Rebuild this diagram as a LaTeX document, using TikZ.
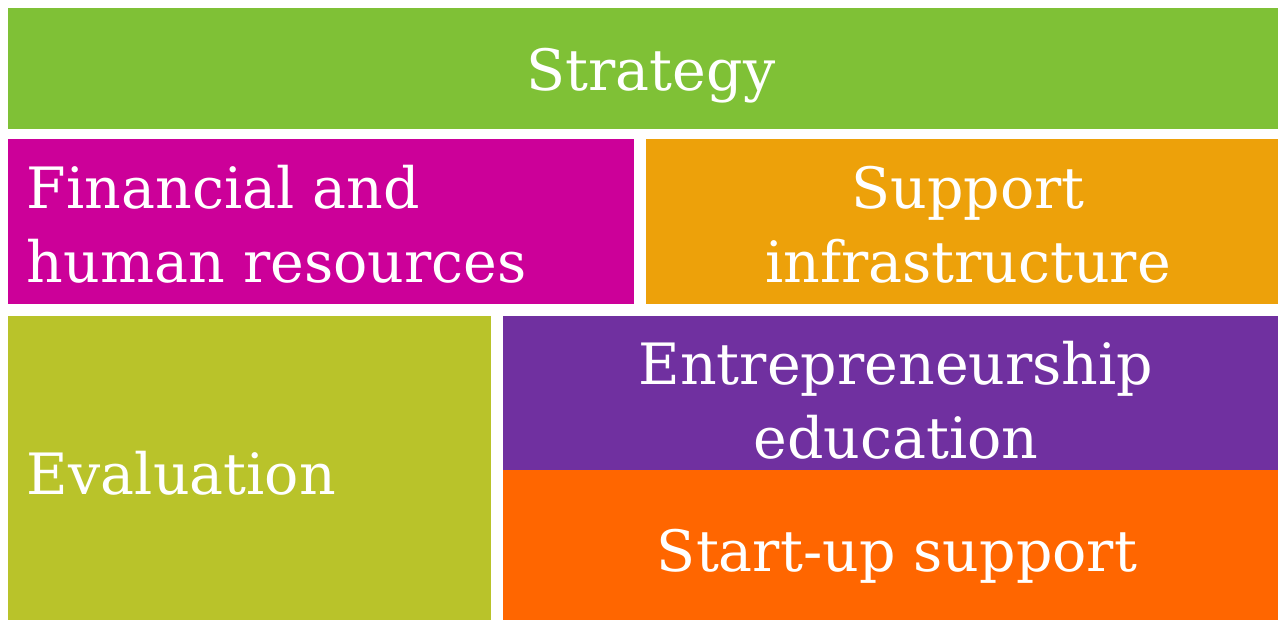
\documentclass[tikz,border=0pt]{standalone}
\usepackage{fontspec}
\setmainfont{DejaVu Serif}
\definecolor{cgreen}{HTML}{7FC136}
\definecolor{cmagenta}{HTML}{CC0099}
\definecolor{cgold}{HTML}{EDA10A}
\definecolor{colive}{HTML}{B9C32A}
\definecolor{cpurple}{HTML}{7030A0}
\definecolor{corange}{HTML}{FF6600}
\begin{document}
\begin{tikzpicture}[x=1pt,y=-1pt,
  box/.style={draw=none,inner sep=0pt,outer sep=0pt,anchor=north west},
  lbl/.style={text=white,font=\fontsize{57}{75}\selectfont,inner sep=0pt,outer sep=0pt}]
\useasboundingbox (0,0) rectangle (1278,620);
\fill[white] (0,0) rectangle (1278,620);
\node[box,fill=cgreen,minimum width=1270pt,minimum height=121pt] (strategy) at (8,8) {};
\node[box,fill=cmagenta,minimum width=626pt,minimum height=165pt] (finance) at (8,139) {};
\node[box,fill=cgold,minimum width=632pt,minimum height=165pt] (support) at (646,139) {};
\node[box,fill=colive,minimum width=483pt,minimum height=304pt] (evaluation) at (8,316) {};
\node[box,fill=cpurple,minimum width=775pt,minimum height=154pt] (education) at (503,316) {};
\node[box,fill=corange,minimum width=775pt,minimum height=150pt] (startup) at (503,470) {};
\node[lbl,anchor=base] (tstrategy) at (651,91) {Strategy};
\node[lbl,anchor=base west] (tfin1) at (27,209) {Financial and};
\node[lbl,anchor=base west] (tfin2) at (27,283) {human resources};
\node[lbl,anchor=base] (tsup1) at (968,209) {Support};
\node[lbl,anchor=base] (tsup2) at (968,283) {infrastructure};
\node[lbl,anchor=base west] (teval) at (27,494) {Evaluation};
\node[lbl,anchor=base] (tedu1) at (896,385) {Entrepreneurship};
\node[lbl,anchor=base] (tedu2) at (896,458) {education};
\node[lbl,anchor=base] (tstart) at (897,571) {Start-up support};
\end{tikzpicture}
\end{document}
